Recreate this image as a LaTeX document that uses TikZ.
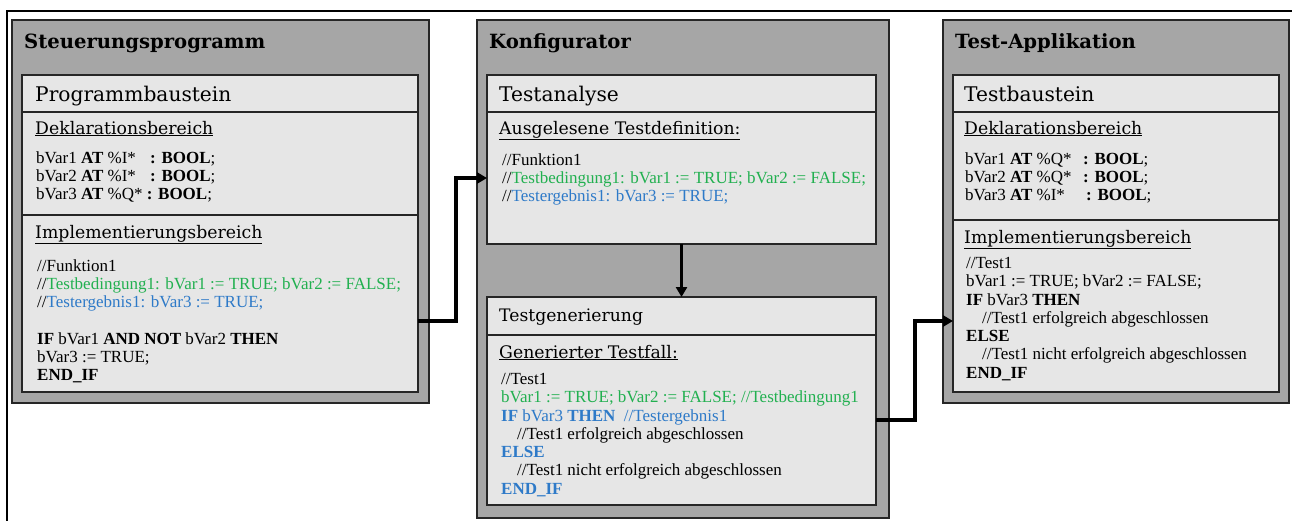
\documentclass[tikz,border=0pt]{standalone}
\usepackage{fontspec}
\setmainfont{Liberation Serif}
\newfontfamily\headfont{DejaVu Serif}
\usetikzlibrary{arrows.meta}
\definecolor{panelgray}{HTML}{A6A6A6}
\definecolor{boxgray}{HTML}{E6E6E6}
\definecolor{condgreen}{HTML}{22B050}
\definecolor{resblue}{HTML}{2E7AC8}
\newcommand\kw[1]{\textbf{#1}}
\newcommand\cond[1]{//\textcolor{condgreen}{#1}}
\newcommand\res[1]{//\textcolor{resblue}{#1}}
\begin{document}
\begin{tikzpicture}[x=1pt,y=-1pt,
panel/.style={draw=black!85,line width=1.4pt,fill=panelgray,anchor=north west,inner sep=0,outer sep=0},
box/.style={draw=black!85,line width=1.1pt,fill=boxgray,anchor=north west,inner sep=0,outer sep=0},
title/.style={anchor=base west,inner sep=0,font=\headfont\bfseries\fontsize{19.6}{22}\selectfont},
head/.style={anchor=base west,inner sep=0,font=\headfont\fontsize{20.2}{23}\selectfont},
sub/.style={anchor=base west,inner sep=0,font=\headfont\fontsize{17.3}{20}\selectfont},
code/.style={anchor=north west,align=left,inner sep=0,font=\fontsize{17}{18.3}\selectfont},
conn/.style={line width=3.4pt,-{Triangle[length=10pt,width=11pt]}}]
\useasboundingbox (0,0) rectangle (1292,520);
\draw[line width=1.6pt] (7,530) -- (7,11) -- (1300,11);
% Steuerungsprogramm
\node[panel,minimum width=417pt,minimum height=383pt] (steuer) at (12,20) {};
\node[title] (steuerT) at (24,48) {Steuerungsprogramm};
\node[box,minimum width=396pt,minimum height=37pt] (progH) at (22,75) {};
\node[box,minimum width=396pt,minimum height=103pt] (declL) at (22,112) {};
\node[box,minimum width=396pt,minimum height=177pt] (implL) at (22,215) {};
\node[head] (progT) at (35,101) {Programmbaustein};
\node[sub] (declLT) at (35,134) {\underline{Deklarationsbereich}};
\node[code] (declLC) at (36,151) {\makebox[114pt][l]{bVar1 \kw{AT} \%I*}\kw{: BOOL};\\
\makebox[114pt][l]{bVar2 \kw{AT} \%I*}\kw{: BOOL};\\
bVar3 \kw{AT} \%Q* \kw{: BOOL};};
\node[sub] (implLT) at (35,238) {\underline{Implementierungsbereich}};
\node[code] (implLC) at (37,259) {//Funktion1\\
\cond{Testbedingung1: bVar1 := TRUE; bVar2 := FALSE;}\\
\res{Testergebnis1: bVar3 := TRUE;}\\[18.3pt]
\kw{IF} bVar1 \kw{AND NOT} bVar2 \kw{THEN}\\
bVar3 := TRUE;\\
\kw{END\_IF}};
% Konfigurator
\node[panel,minimum width=412pt,minimum height=498pt] (konf) at (477,20) {};
\node[title] (konfT) at (489,48) {Konfigurator};
\node[box,minimum width=389pt,minimum height=37pt] (analyseH) at (487,75) {};
\node[box,minimum width=389pt,minimum height=132pt] (analyse) at (487,112) {};
\node[head] (analyseT) at (499,101) {Testanalyse};
\node[sub] (analyseS) at (499,134) {\underline{Ausgelesene Testdefinition:}};
\node[code] (analyseC) at (502,153) {//Funktion1\\
\cond{Testbedingung1: bVar1 := TRUE; bVar2 := FALSE;}\\
\res{Testergebnis1: bVar3 := TRUE;}};
\node[box,minimum width=389pt,minimum height=38pt] (generH) at (487,297) {};
\node[box,minimum width=389pt,minimum height=170pt] (gener) at (487,335) {};
\node[head,font=\headfont\fontsize{17.2}{20}\selectfont] (generT) at (499,321) {Testgenerierung};
\node[sub] (generS) at (499,358) {\underline{Generierter Testfall:}};
\node[code] (generC) at (501,373) {//Test1\\
\textcolor{condgreen}{bVar1 := TRUE; bVar2 := FALSE; //Testbedingung1}\\
\textcolor{resblue}{\kw{IF} bVar3 \kw{THEN}\ \ //Testergebnis1}\\
\hspace*{16pt}//Test1 erfolgreich abgeschlossen\\
\textcolor{resblue}{\kw{ELSE}}\\
\hspace*{16pt}//Test1 nicht erfolgreich abgeschlossen\\
\textcolor{resblue}{\kw{END\_IF}}};
% Test-Applikation
\node[panel,minimum width=346pt,minimum height=383pt] (app) at (943,20) {};
\node[title] (appT) at (955,48) {Test-Applikation};
\node[box,minimum width=326pt,minimum height=37pt] (testH) at (953,75) {};
\node[box,minimum width=326pt,minimum height=108pt] (declR) at (953,112) {};
\node[box,minimum width=326pt,minimum height=172pt] (implR) at (953,220) {};
\node[head] (testT) at (964,101) {Testbaustein};
\node[sub] (declRT) at (964,134) {\underline{Deklarationsbereich}};
\node[code] (declRC) at (965,152) {\makebox[118pt][l]{bVar1 \kw{AT} \%Q*}\kw{: BOOL};\\
\makebox[118pt][l]{bVar2 \kw{AT} \%Q*}\kw{: BOOL};\\
\makebox[121pt][l]{bVar3 \kw{AT} \%I*}\kw{: BOOL};};
\node[sub] (implRT) at (964,243) {\underline{Implementierungsbereich}};
\node[code] (implRC) at (966,257) {//Test1\\
bVar1 := TRUE; bVar2 := FALSE;\\
\kw{IF} bVar3 \kw{THEN}\\
\hspace*{16pt}//Test1 erfolgreich abgeschlossen\\
\kw{ELSE}\\
\hspace*{16pt}//Test1 nicht erfolgreich abgeschlossen\\
\kw{END\_IF}};
% connectors
\draw[conn] ([yshift=-17.5pt]implL.east) -- ++(38,0) |- (analyse.west);
\draw[conn] (analyse.south) -- (generH.north);
\draw[conn] (gener.east) -- ++(39,0) |- ([yshift=-15pt]implR.west);
\end{tikzpicture}
\end{document}
